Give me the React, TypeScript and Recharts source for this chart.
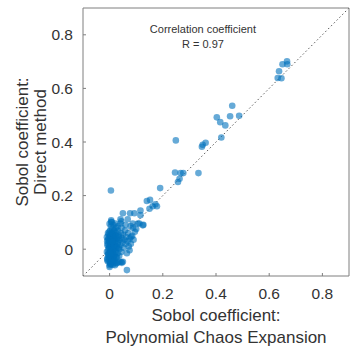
import * as React from "react"
import {
    ScatterChart,
    Scatter,
    XAxis,
    YAxis,
    ReferenceLine,
    ReferenceDot
} from "recharts"

// Sobol coefficients: x = polynomial chaos expansion, y = direct method
const pceValues = [
    0.667, 0.650, 0.668, 0.637, 0.632, 0.646, 0.461, 0.403, 0.453, 0.487,
    0.416, 0.435, 0.420, 0.361, 0.350, 0.347, 0.249, 0.246, 0.267, 0.277,
    0.334, 0.263, 0.257, 0.190, 0.005, 0.140, 0.152, 0.178, 0.162, 0.150,
    0.172, 0.050, 0.077, 0.093, 0.116, 0.116, 0.041, 0.068, 0.006, 0.065,
    0.050, 0.037, 0.006, 0.112, 0.127, 0.087, 0.081, 0.075, 0.106, 0.125,
    0.079, 0.021, 0.041,
    -0.008, -0.006, -0.005, -0.007, -0.004, -0.006, -0.003, -0.002, -0.001, 0.000,
    0.001, 0.002, 0.002, 0.003, 0.004, 0.004, 0.005, 0.005, 0.006, 0.006,
    0.007, 0.008, 0.008, 0.009, 0.010, 0.010, 0.011, 0.012, 0.012, 0.013,
    0.014, 0.015, 0.015, 0.016, 0.017, 0.018, 0.019, 0.020, 0.021, 0.022,
    0.023, 0.024, 0.025, 0.026, 0.027, 0.028, 0.030, 0.031, 0.032, 0.034,
    0.035, 0.036, 0.038, 0.040, 0.042, 0.044, 0.045, 0.048, 0.050, 0.052,
    0.055, 0.058, 0.060, 0.062, 0.065, 0.068, 0.070, 0.072, 0.076, 0.080,
    0.085, 0.090, 0.095, 0.100, 0.088, -0.010, -0.009, 0.000, 0.003, 0.012,
    0.020, 0.000, 0.008, 0.030, 0.045, 0.060, 0.020, 0.012, 0.029, 0.044,
    0.000, 0.003, 0.025, 0.046, 0.006, 0.044,
    -0.010, -0.009, -0.008, -0.007, -0.006, -0.005, -0.004, -0.003, -0.002, -0.001,
    0.000, 0.001, 0.002, 0.003, 0.004, 0.005, 0.006, 0.007, 0.008, 0.009,
    0.010, 0.011, 0.012, 0.013, 0.014, 0.015, 0.016, 0.017, 0.018, 0.019,
    0.020, 0.022, 0.024, 0.026, 0.028, 0.030, 0.033, 0.036, 0.002, 0.010
]
const directValues = [
    0.701, 0.690, 0.690, 0.664, 0.639, 0.638, 0.535, 0.492, 0.496, 0.498,
    0.474, 0.462, 0.417, 0.397, 0.390, 0.382, 0.406, 0.286, 0.284, 0.284,
    0.284, 0.263, 0.251, 0.228, 0.219, 0.180, 0.184, 0.160, 0.160, 0.151,
    0.168, 0.134, 0.134, 0.134, 0.144, 0.127, 0.112, 0.112, 0.108, -0.078,
    -0.047, -0.048, -0.056, 0.096, 0.091, 0.096, 0.046, -0.004, 0.096, 0.089,
    0.086, 0.096, 0.096,
    -0.040, -0.020, 0.000, 0.020, 0.040, 0.060, -0.030, 0.010, 0.030, 0.050,
    -0.050, -0.010, 0.070, 0.020, -0.035, 0.045, 0.000, 0.085, -0.020, 0.030,
    0.060, -0.045, 0.015, -0.005, 0.040, 0.075, -0.030, 0.025, 0.055, -0.015,
    0.005, 0.045, 0.090, -0.040, 0.035, 0.065, -0.020, 0.015, 0.050, -0.005,
    0.030, 0.080, -0.030, 0.060, 0.010, 0.040, -0.015, 0.070, 0.025, 0.005,
    0.050, -0.025, 0.035, 0.015, 0.060, -0.010, 0.040, 0.025, 0.055, 0.005,
    0.035, 0.070, 0.020, 0.045, -0.015, 0.030, 0.060, 0.010, 0.040, 0.020,
    0.050, 0.035, 0.065, 0.075, 0.080, -0.010, 0.030, -0.060, -0.055, -0.058,
    -0.050, 0.095, 0.100, 0.085, 0.080, 0.090, -0.060, -0.047, -0.051, -0.048,
    -0.066, -0.053, -0.053, -0.051, 0.102, 0.104,
    0.045, -0.035, 0.015, -0.045, 0.035, -0.015, 0.055, -0.025, 0.005, 0.065,
    -0.040, 0.025, -0.010, 0.045, -0.030, 0.010, 0.050, -0.045, 0.020, -0.020,
    0.060, -0.005, 0.035, -0.035, 0.000, 0.040, -0.025, 0.015, 0.070, -0.040,
    0.030, -0.010, 0.050, 0.005, -0.030, 0.020, 0.045, 0.000, -0.015, 0.028
]
const tickValues = [0, 0.2, 0.4, 0.6, 0.8]
const annotation = ["Correlation coefficient", "R = 0.97"]
const xLabel = ["Sobol coefficient:", "Polynomial Chaos Expansion"]
const yLabel = ["Sobol coefficient:", "Direct method"]

const points = pceValues.map((x, i) => ({ x, y: directValues[i] }))

const LEFT = 83
const TOP = 8
const RIGHT = 349
const BOTTOM = 276
const AXIS = "#7f7f7f"
const TEXT = "#333333"
const FONT = "'Liberation Sans', Arial, sans-serif"

const BottomTick = (props: any) => (
    <g>
        <line x1={props.x} x2={props.x} y1={BOTTOM} y2={BOTTOM - 3} stroke={AXIS} />
        <text x={props.x} y={298.5} textAnchor="middle" fontSize={15.5} fill={TEXT} fontFamily={FONT}>
            {props.payload.value}
        </text>
    </g>
)

const LeftTick = (props: any) => (
    <g>
        <line x1={LEFT} x2={LEFT + 3} y1={props.y} y2={props.y} stroke={AXIS} />
        <text x={73} y={props.y + 5.5} textAnchor="end" fontSize={15.5} fill={TEXT} fontFamily={FONT}>
            {props.payload.value}
        </text>
    </g>
)

const TopTick = (props: any) => (
    <line x1={props.x} x2={props.x} y1={TOP} y2={TOP + 3} stroke={AXIS} />
)

const RightTick = (props: any) => (
    <line x1={RIGHT} x2={RIGHT - 3} y1={props.y} y2={props.y} stroke={AXIS} />
)

const Dot = (props: any) => (
    <circle cx={props.cx} cy={props.cy} r={3.3} fill="#0072BD" fillOpacity={0.6} />
)

export default function App() {
    const cx = (LEFT + RIGHT) / 2
    const cy = (TOP + BOTTOM) / 2
    return (
        <div style={{ position: "absolute", left: 0, top: 0, width: 350, height: 347 }}>
            <ScatterChart
                width={350}
                height={347}
                margin={{ top: 0, right: 0, bottom: 0, left: 0 }}
            >
                <XAxis
                    xAxisId="b"
                    type="number"
                    dataKey="x"
                    domain={[-0.1, 0.9]}
                    ticks={tickValues}
                    height={71}
                    stroke={AXIS}
                    tickLine={false}
                    tick={<BottomTick />}
                    label={{
                        content: () => (
                            <text textAnchor="middle" fontSize={17} fill={TEXT} fontFamily={FONT}>
                                <tspan x={cx} y={321}>{xLabel[0]}</tspan>
                                <tspan x={cx} y={343}>{xLabel[1]}</tspan>
                            </text>
                        )
                    }}
                />
                <XAxis
                    xAxisId="t"
                    orientation="top"
                    type="number"
                    dataKey="x"
                    domain={[-0.1, 0.9]}
                    ticks={tickValues}
                    height={TOP}
                    stroke={AXIS}
                    tickLine={false}
                    tick={<TopTick />}
                />
                <YAxis
                    yAxisId="l"
                    type="number"
                    dataKey="y"
                    domain={[-0.1, 0.9]}
                    ticks={tickValues}
                    width={LEFT}
                    stroke={AXIS}
                    tickLine={false}
                    tick={<LeftTick />}
                    label={{
                        content: () => (
                            <text textAnchor="middle" fontSize={17} fill={TEXT} fontFamily={FONT}
                                transform={`rotate(-90, 0, 0)`}>
                                <tspan x={-cy} y={28}>{yLabel[0]}</tspan>
                                <tspan x={-cy} y={46}>{yLabel[1]}</tspan>
                            </text>
                        )
                    }}
                />
                <YAxis
                    yAxisId="r"
                    orientation="right"
                    type="number"
                    dataKey="y"
                    domain={[-0.1, 0.9]}
                    ticks={tickValues}
                    width={350 - RIGHT}
                    stroke={AXIS}
                    tickLine={false}
                    tick={<RightTick />}
                />
                <ReferenceLine
                    xAxisId="b"
                    yAxisId="l"
                    segment={[{ x: -0.1, y: -0.1 }, { x: 0.9, y: 0.9 }]}
                    stroke="#444"
                    strokeWidth={0.9}
                    strokeDasharray="1.5 2.5"
                    ifOverflow="visible"
                />
                <Scatter
                    xAxisId="b"
                    yAxisId="l"
                    data={points}
                    shape={<Dot />}
                    isAnimationActive={false}
                />
                <ReferenceDot
                    xAxisId="b"
                    yAxisId="l"
                    x={0.351}
                    y={0.823}
                    r={0}
                    label={{
                        content: (p: any) => (
                            <text textAnchor="middle" fontSize={11} fill={TEXT} fontFamily={FONT}>
                                <tspan x={p.viewBox.x} y={p.viewBox.y + 4}>{annotation[0]}</tspan>
                                <tspan x={p.viewBox.x} y={p.viewBox.y + 19}>{annotation[1]}</tspan>
                            </text>
                        )
                    }}
                />
            </ScatterChart>
        </div>
    )
}
